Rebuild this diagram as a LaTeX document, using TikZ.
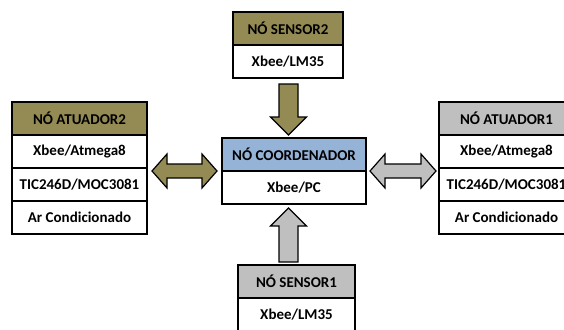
\documentclass[tikz,border=0pt]{standalone}
\usepackage{fontspec}
\setmainfont{Carlito}
\usetikzlibrary{positioning, calc}
\definecolor{olivehd}{HTML}{948A54}
\definecolor{grayhd}{HTML}{BFBFBF}
\definecolor{bluehd}{HTML}{95B3D7}

\begin{document}
\begin{tikzpicture}[
        x=1pt, y=-1pt,
        cell/.style={
            draw,
            line width=1.2pt,
            fill=white,
            outer sep=0pt,
            inner sep=0pt,
            minimum height=33pt,
            font=\bfseries\fontsize{15}{18}\selectfont
        },
        blk/.style={
            draw,
            line width=1.2pt,
            line join=miter
        }
    ]

    \useasboundingbox (0,0) rectangle (564,329);

    % actuator 2 (left)
    \node[cell, fill=olivehd, minimum width=135pt] (atu2h) at (79.5,118.5) {NÓ ATUADOR2};
    \node[cell, minimum width=135pt, below=0pt of atu2h] (atu2a) {Xbee/Atmega8};
    \node[cell, minimum width=135pt, below=0pt of atu2a] (atu2b) {TIC246D/MOC3081};
    \node[cell, minimum width=135pt, below=0pt of atu2b] (atu2c) {Ar Condicionado};

    % actuator 1 (right)
    \node[cell, fill=grayhd, minimum width=135pt] (atu1h) at (506.5,118.5) {NÓ ATUADOR1};
    \node[cell, minimum width=135pt, below=0pt of atu1h] (atu1a) {Xbee/Atmega8};
    \node[cell, minimum width=135pt, below=0pt of atu1a] (atu1b) {TIC246D/MOC3081};
    \node[cell, minimum width=135pt, below=0pt of atu1b] (atu1c) {Ar Condicionado};

    % coordinator
    \node[cell, fill=bluehd, minimum width=144pt] (coordh) at (294,154.5) {NÓ COORDENADOR};
    \node[cell, minimum width=144pt, below=0pt of coordh] (coordr) {Xbee/PC};

    % sensors
    \node[cell, fill=olivehd, minimum width=110pt] (sen2h) at (288,28.5) {NÓ SENSOR2};
    \node[cell, minimum width=110pt, below=0pt of sen2h] (sen2r) {Xbee/LM35};

    \node[cell, fill=grayhd, minimum width=117pt] (sen1h) at (296.5,281.5) {NÓ SENSOR1};
    \node[cell, minimum width=117pt, below=0pt of sen1h] (sen1r) {Xbee/LM35};

    % ends of the links
    \coordinate (lA) at ([xshift=5pt]atu2b.east |- coordh.south);
    \coordinate (lB) at ([xshift=-5pt]coordh.south west);
    \coordinate (rA) at ([xshift=4pt]coordh.south east);
    \coordinate (rB) at ([xshift=-3pt]atu1b.west |- coordh.south);
    \coordinate (tA) at ([xshift=0.5pt, yshift=-6pt]sen2r.south);
    \coordinate (tB) at ([yshift=3pt]tA |- coordh.north);
    \coordinate (bA) at ([yshift=3pt]tA |- sen1h.north);
    \coordinate (bB) at ([yshift=-4pt]tA |- coordr.south);

    % links
    \draw[blk, fill=olivehd] (lA) -- ++(15,-17) -- ++(0,10) -- ($(lB)+(-15,-7)$) -- ++(0,-10)
        -- (lB) -- ++(-15,17) -- ++(0,-10) -- ($(lA)+(15,7)$) -- ++(0,10) -- cycle;
    \draw[blk, fill=grayhd] (rA) -- ++(15,-17) -- ++(0,10) -- ($(rB)+(-15,-7)$) -- ++(0,-10)
        -- (rB) -- ++(-15,17) -- ++(0,-10) -- ($(rA)+(15,7)$) -- ++(0,10) -- cycle;
    \draw[blk, fill=olivehd] ($(tA)+(-9.5,0)$) -- ($(tB)+(-9.5,-18)$) -- ++(-8.5,0) -- (tB)
        -- ($(tB)+(18,-18)$) -- ++(-8.5,0) -- ($(tA)+(9.5,0)$) -- cycle;
    \draw[blk, fill=grayhd] ($(bA)+(-9.5,0)$) -- ($(bB)+(-9.5,18)$) -- ++(-8.5,0) -- (bB)
        -- ($(bB)+(18,18)$) -- ++(-8.5,0) -- ($(bA)+(9.5,0)$) -- cycle;

\end{tikzpicture}
\end{document}
